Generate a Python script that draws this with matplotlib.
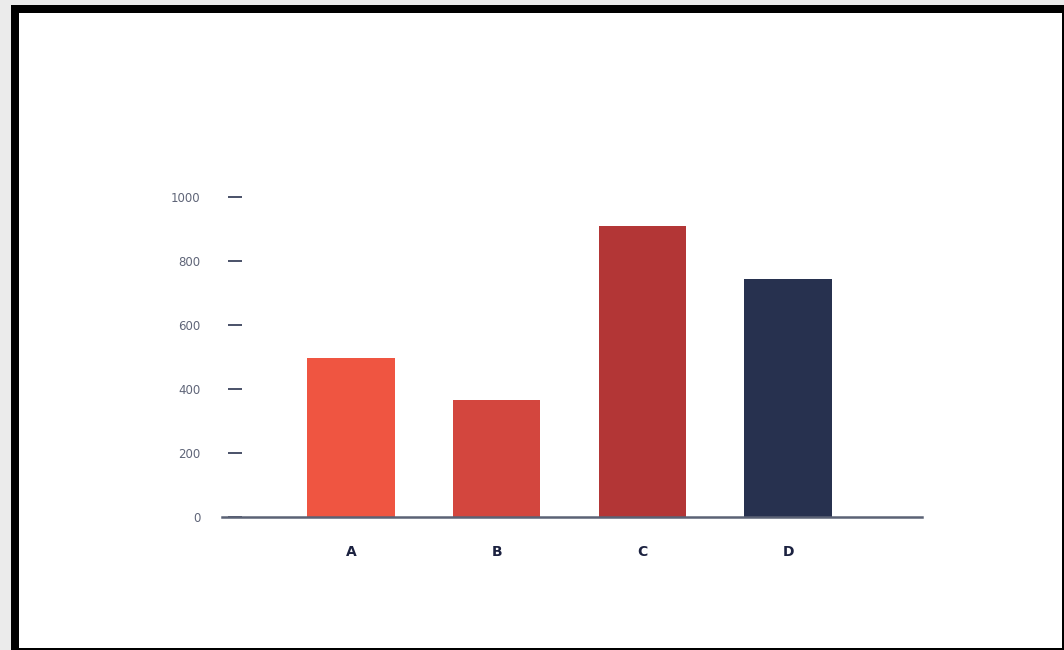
import matplotlib
matplotlib.use("Agg")
import matplotlib.pyplot as plt
from matplotlib.patches import Rectangle

categories = ["A", "B", "C", "D"]
values = [497, 365, 910, 745]
bar_colors = ["#ef5541", "#d3463e", "#b33636", "#27314f"]
y_ticks = [0, 200, 400, 600, 800, 1000]

W, H = 1064, 650
fig = plt.figure(figsize=(W / 100, H / 100), dpi=100, facecolor="#ebebeb")

# frame: black border with white interior
def px_rect(x0, y0, x1, y1, color, z):
    fig.patches.append(Rectangle((x0 / W, 1 - y1 / H), (x1 - x0) / W, (y1 - y0) / H,
                                 transform=fig.transFigure, facecolor=color,
                                 edgecolor="none", zorder=z))

px_rect(11, 5, 1064, 650, "black", -2)
px_rect(19, 13, 1062, 648, "white", -1)

ax = fig.add_axes([222 / W, (H - 517) / H, (922 - 222) / W, (517 - 197) / H])
ax.set_facecolor("none")
ax.bar(range(len(categories)), values, width=0.6, color=bar_colors, zorder=2)
ax.set_xlim(-0.887, 3.92)
ax.set_ylim(0, 1000)

for s in ["top", "right", "left"]:
    ax.spines[s].set_visible(False)
ax.spines["bottom"].set_color("#5b6275")
ax.spines["bottom"].set_linewidth(1.8)
ax.spines["bottom"].set_zorder(3)
ax.spines["left"].set_position(("outward", -4.3))

ax.set_yticks(y_ticks)
ax.set_yticklabels([str(v) for v in y_ticks])
ax.tick_params(axis="y", direction="in", length=10, width=1.4, color="#4a5168",
               pad=20, labelsize=8.5, labelcolor="#5f6578")
ax.set_xticks(range(len(categories)))
ax.set_xticklabels(categories, fontweight="bold")
ax.tick_params(axis="x", length=0, pad=20, labelsize=10, labelcolor="#1c2240")

fig.savefig("out.png", dpi=100, facecolor=fig.get_facecolor())
